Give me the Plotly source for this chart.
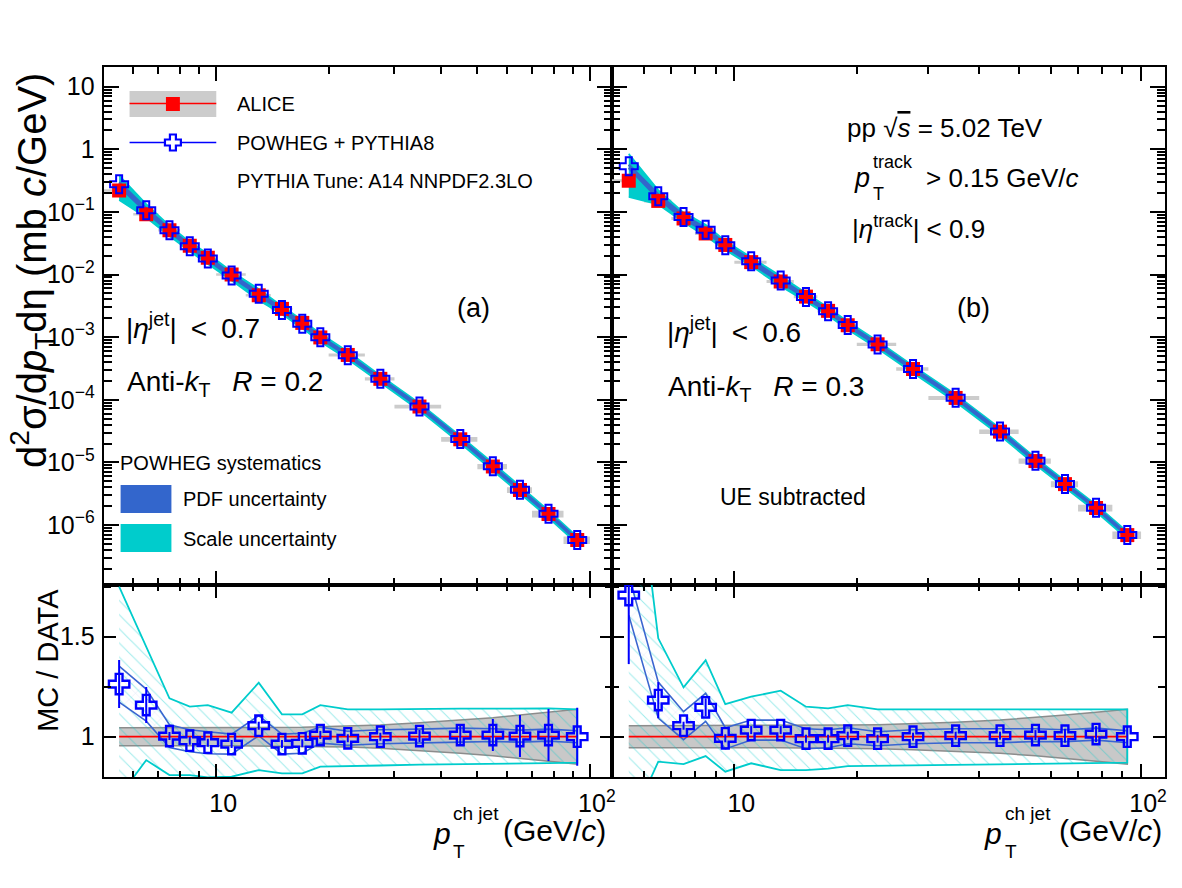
import numpy as np
import plotly.graph_objects as go

W, H = 1182, 888
FONT = "Liberation Sans, Arial, sans-serif"

# ---------------- data ----------------
bin_edges = [5, 6, 7, 8, 9, 10, 12, 14, 16, 18, 20, 25, 30, 40, 50, 60, 70, 85, 100]
pt_centers = [5.5, 6.5, 7.5, 8.5, 9.5, 11, 13, 15, 17, 19, 22.5, 27.5, 35, 45, 55, 65, 77.5, 92.5]

# ALICE cross sections (mb c/GeV)
alice_r02 = [0.22, 0.092, 0.051, 0.0289, 0.0186, 0.0100, 0.00466, 0.00283, 0.00169, 0.00099,
             5.2e-4, 2.16e-4, 7.8e-5, 2.34e-5, 8.6e-6, 3.63e-6, 1.5e-6, 5.75e-7]
alice_r03 = [0.315, 0.15, 0.0787, 0.0453, 0.0297, 0.0158, 0.00775, 0.00444, 0.00263, 0.00155,
             7.7e-4, 3.1e-4, 1.07e-4, 3.1e-5, 1.05e-5, 4.5e-6, 1.87e-6, 6.9e-7]
# ALICE relative systematic uncertainty
alice_syst_r02 = [0.045, 0.045, 0.045, 0.045, 0.045, 0.045, 0.045, 0.045, 0.047, 0.05,
                  0.052, 0.058, 0.07, 0.083, 0.095, 0.108, 0.122, 0.137]
alice_syst_r03 = [0.055, 0.055, 0.055, 0.055, 0.055, 0.055, 0.055, 0.055, 0.055, 0.058,
                  0.06, 0.065, 0.072, 0.083, 0.095, 0.108, 0.122, 0.137]
# POWHEG+PYTHIA8 / ALICE ratio
ratio_r02 = [1.263, 1.158, 1.003, 0.98, 0.97, 0.963, 1.055, 0.963, 0.967, 1.008,
             0.992, 1.0, 1.003, 1.008, 1.008, 1.003, 1.008, 1.0]
ratio_r03 = [1.708, 1.183, 1.055, 1.147, 0.992, 1.033, 1.033, 0.99, 0.99, 1.005,
             0.99, 1.0, 1.005, 1.005, 1.008, 1.005, 1.013, 1.0]
# MC statistical uncertainty on ratio
ratio_stat_r02 = [0.12, 0.09, 0.02, 0.02, 0.02, 0.02, 0.02, 0.02, 0.02, 0.02,
                  0.02, 0.02, 0.03, 0.055, 0.08, 0.105, 0.13, 0.145]
ratio_stat_r03 = [0.345, 0.09, 0.02, 0.045, 0.02, 0.02, 0.02, 0.02, 0.02, 0.02,
                  0.02, 0.02, 0.02, 0.02, 0.025, 0.035, 0.04, 0.05]
# PDF uncertainty (half width, ratio units)
pdf_r02 = [0.09, 0.08, 0.057, 0.055, 0.055, 0.05, 0.05, 0.05, 0.05, 0.04,
           0.035, 0.035, 0.035, 0.035, 0.032, 0.03, 0.03, 0.03]
pdf_r03 = [0.1, 0.09, 0.07, 0.07, 0.053, 0.05, 0.05, 0.05, 0.045, 0.04,
           0.035, 0.035, 0.035, 0.035, 0.032, 0.03, 0.03, 0.03]
# Scale uncertainty envelope (ratio to data)
scale_hi_r02 = [1.75, 1.449, 1.192, 1.15, 1.158, 1.12, 1.27, 1.112, 1.112, 1.158,
                1.137, 1.137, 1.14, 1.14, 1.14, 1.142, 1.142, 1.137]
scale_lo_r02 = [0.70, 0.883, 0.808, 0.808, 0.797, 0.80, 0.833, 0.817, 0.817, 0.85,
                0.853, 0.856, 0.86, 0.862, 0.865, 0.867, 0.868, 0.87]
scale_hi_r03 = [2.7, 1.492, 1.247, 1.383, 1.163, 1.2, 1.23, 1.15, 1.142, 1.158,
                1.137, 1.137, 1.137, 1.137, 1.137, 1.137, 1.137, 1.137]
scale_lo_r03 = [0.55, 0.875, 0.863, 0.903, 0.825, 0.867, 0.833, 0.833, 0.84, 0.853,
                0.855, 0.857, 0.86, 0.862, 0.865, 0.867, 0.868, 0.87]

# ticks
x_major = [10, 100]
x_major_text = ["10", "10<sup>2</sup>"]
x_minor = [6, 7, 8, 9, 20, 30, 40, 50, 60, 70, 80, 90]
y_major = [1e-6, 1e-5, 1e-4, 1e-3, 1e-2, 1e-1, 1, 10]
y_major_text = ["10<sup>\u22126</sup>", "10<sup>\u22125</sup>", "10<sup>\u22124</sup>", "10<sup>\u22123</sup>",
                "10<sup>\u22122</sup>", "10<sup>\u22121</sup>", "1", "10"]
y_minor = [m * 10.0 ** k for k in range(-7, 2) for m in range(2, 10)]
r_major = [1, 1.5]
r_major_text = ["1", "1.5"]
r_minor = [1.25, 1.75]

# ---------------- colours ----------------
RED = "#ff0000"
BLUE = "#0000ff"
CYAN = "#00cccc"
PDFBLUE = "#3366cc"
GRAY = "rgb(204,204,204)"

fig = go.Figure()


def poly(x, lo, hi):
    x = list(x)
    return x + x[::-1], list(hi) + list(lo)[::-1]


def add_panel(xa, ya, xr, yr, data, syst, ratio, stat, pdf, s_hi, s_lo):
    d = np.array(data)
    r = np.array(ratio)
    mc = d * r
    sy = np.array(syst)
    # --- top panel ---
    bx, by = [], []
    for i in range(len(d)):
        lo, hi = bin_edges[i], bin_edges[i + 1]
        y0, y1 = d[i] * (1 - sy[i]), d[i] * (1 + sy[i])
        bx += [lo, hi, hi, lo, lo, None]
        by += [y0, y0, y1, y1, y0, None]
    fig.add_trace(go.Scatter(x=bx, y=by, xaxis=xa, yaxis=ya, mode="lines", fill="toself",
                             fillcolor=GRAY, line=dict(width=0, color=GRAY), showlegend=False,
                             hoverinfo="skip"))
    px_, py_ = poly(pt_centers, d * np.array(s_lo), d * np.array(s_hi))
    fig.add_trace(go.Scatter(x=px_, y=py_, xaxis=xa, yaxis=ya, mode="lines", fill="toself",
                             fillcolor=CYAN, line=dict(width=1.5, color=CYAN), showlegend=False))
    px_, py_ = poly(pt_centers, d * (r - np.array(pdf)), d * (r + np.array(pdf)))
    fig.add_trace(go.Scatter(x=px_, y=py_, xaxis=xa, yaxis=ya, mode="lines", fill="toself",
                             fillcolor=PDFBLUE, line=dict(width=2.5, color=PDFBLUE), showlegend=False))
    fig.add_trace(go.Scatter(x=pt_centers, y=d, xaxis=xa, yaxis=ya, mode="markers",
                             marker=dict(symbol="square", size=14, color=RED, line=dict(width=0)),
                             showlegend=False))
    fig.add_trace(go.Scatter(x=pt_centers, y=mc, xaxis=xa, yaxis=ya, mode="markers",
                             marker=dict(symbol="cross-open", size=15, color=BLUE, line=dict(width=2, color=BLUE)),
                             showlegend=False))
    # --- ratio panel ---
    px_, py_ = poly(pt_centers, 1 - sy, 1 + sy)
    fig.add_trace(go.Scatter(x=px_, y=py_, xaxis=xr, yaxis=yr, mode="lines", fill="toself",
                             fillcolor="rgb(200,200,200)", line=dict(width=1.5, color="rgb(140,140,140)"),
                             showlegend=False))
    px_, py_ = poly(pt_centers, s_lo, s_hi)
    fig.add_trace(go.Scatter(x=px_, y=py_, xaxis=xr, yaxis=yr, mode="lines", fill="toself",
                             fillcolor="rgba(0,0,0,0)",
                             fillpattern=dict(shape="\\", fgcolor="rgba(0,200,200,0.75)", bgcolor="rgba(0,0,0,0)",
                                              size=10, solidity=0.1),
                             line=dict(width=1.8, color=CYAN), showlegend=False))
    px_, py_ = poly(pt_centers, r - np.array(pdf), r + np.array(pdf))
    fig.add_trace(go.Scatter(x=px_, y=py_, xaxis=xr, yaxis=yr, mode="lines", fill="toself",
                             fillcolor="rgba(0,0,0,0)",
                             fillpattern=dict(shape="x", fgcolor="rgba(120,150,220,0.6)", bgcolor="rgba(0,0,0,0)",
                                              size=9, solidity=0.08),
                             line=dict(width=1.6, color="#3a66d0"), showlegend=False))
    fig.add_trace(go.Scatter(x=pt_centers, y=d / d, xaxis=xr, yaxis=yr, mode="lines",
                             line=dict(width=1.8, color=RED), showlegend=False))
    fig.add_trace(go.Scatter(x=pt_centers, y=r, xaxis=xr, yaxis=yr, mode="markers",
                             marker=dict(symbol="cross-open", size=17, color=BLUE, line=dict(width=2.4, color=BLUE)),
                             error_y=dict(type="data", array=stat, color=BLUE, thickness=2, width=0),
                             showlegend=False))


add_panel("x", "y", "x3", "y3", alice_r02, alice_syst_r02, ratio_r02, ratio_stat_r02, pdf_r02,
          scale_hi_r02, scale_lo_r02)
add_panel("x2", "y2", "x4", "y4", alice_r03, alice_syst_r03, ratio_r03, ratio_stat_r03, pdf_r03,
          scale_hi_r03, scale_lo_r03)

# ---------------- axes ----------------
L0, L1, R1 = 104 / W, 614 / W, 1169 / W
T_top, T_bot = 1 - 67 / H, 1 - 585 / H
B_bot = 1 - 777 / H
XR = [np.log10(5), np.log10(5) + 1.36]
YR = [-6.958, 1.3147]
RR = [0.7985, 1.7585]
tf = dict(size=25, family=FONT, color="black")


def xcfg(domain, anchor, labels, ml, mn):
    return dict(type="log", domain=domain, anchor=anchor, range=XR, tickmode="array",
                tickvals=x_major, ticktext=x_major_text, showticklabels=labels,
                ticks="inside", ticklen=ml, tickwidth=1.5, tickcolor="black",
                minor=dict(ticks="inside", ticklen=mn, tickwidth=1.5, tickcolor="black", tickvals=x_minor,
                           showgrid=False),
                showline=True, linecolor="black", linewidth=2, mirror="ticks", showgrid=False,
                zeroline=False, tickfont=tf, ticklabelstandoff=3, ticklabelshift=7)


def ycfg(domain, anchor, rng, typ, vals, text, minor_vals, labels, ml, mn):
    return dict(type=typ, domain=domain, anchor=anchor, range=rng, tickmode="array",
                tickvals=vals, ticktext=text, showticklabels=labels,
                ticks="inside", ticklen=ml, tickwidth=1.5, tickcolor="black",
                minor=dict(ticks="inside", ticklen=mn, tickwidth=1.5, tickcolor="black", tickvals=minor_vals,
                           showgrid=False),
                showline=True, linecolor="black", linewidth=2, mirror="ticks", showgrid=False,
                zeroline=False, tickfont=tf, ticklabelstandoff=2)


layout = dict(
    width=W, height=H, margin=dict(l=0, r=0, t=0, b=0),
    paper_bgcolor="white", plot_bgcolor="white", showlegend=False,
    font=dict(family=FONT, color="black"),
    xaxis=xcfg([L0, L1], "y", False, 14, 7),
    xaxis2=xcfg([L1, R1], "y2", False, 14, 7),
    xaxis3=xcfg([L0, L1], "y3", True, 13, 6),
    xaxis4=xcfg([L1, R1], "y4", True, 13, 6),
    yaxis=ycfg([T_bot, T_top], "x", YR, "log", y_major, y_major_text, y_minor, True, 15, 8),
    yaxis2=ycfg([T_bot, T_top], "x2", YR, "log", y_major, y_major_text, y_minor, False, 15, 8),
    yaxis3=ycfg([B_bot, T_bot], "x3", RR, "linear", r_major, r_major_text, r_minor, True, 12, 7),
    yaxis4=ycfg([B_bot, T_bot], "x4", RR, "linear", r_major, r_major_text, r_minor, False, 12, 7),
)
fig.update_layout(**layout)

# ---------------- text & legend ----------------
ann = []
shapes = []


def A(text, x, y, size, xanchor="left", yanchor="middle", angle=0):
    ann.append(dict(text=text, x=x / W, y=1 - y / H, xref="paper", yref="paper", showarrow=False,
                    xanchor=xanchor, yanchor=yanchor, textangle=angle,
                    font=dict(size=size, family=FONT, color="black")))


def rect(x0, y0, x1, y1, color, line=None):
    shapes.append(dict(type="rect", xref="paper", yref="paper", x0=x0 / W, x1=x1 / W,
                       y0=1 - y1 / H, y1=1 - y0 / H, fillcolor=color,
                       line=dict(width=0) if line is None else line, layer="above"))


def hline(x0, x1, y, color, w):
    shapes.append(dict(type="line", xref="paper", yref="paper", x0=x0 / W, x1=x1 / W,
                       y0=1 - y / H, y1=1 - y / H, line=dict(color=color, width=w), layer="above"))


def cross_path(cx, cy, r, a):
    pts = [(-a, -r), (a, -r), (a, -a), (r, -a), (r, a), (a, a), (a, r), (-a, r), (-a, a), (-r, a), (-r, -a), (-a, -a)]
    s = "M " + " L ".join(f"{(cx + dx) / W:.5f},{1 - (cy + dy) / H:.5f}" for dx, dy in pts) + " Z"
    return s


# y axis titles
A("d<sup>2</sup>σ/d<i>p</i><sub>T</sub>dη (mb <i>c</i>/GeV)", 32, 270, 40, "center", "middle", -90)
A("MC / DATA", 48, 660, 29, "center", "middle", -90)

# x axis titles (stacked sub/superscripts)
for (xp, xe) in [(432, 503), (985, 1061)]:
    A("<i>p</i>", xp, 833, 30, "left", "middle")
    A("ch jet", xp + 21, 813, 19, "left", "middle")
    A("T", xp + 21, 851, 19, "left", "middle")
    A("(GeV/<i>c</i>)", xe, 830, 30, "left", "middle")

# legend
rect(130, 91, 217, 117, GRAY)
hline(130, 217, 103.5, RED, 1.5)
rect(166.5, 97, 180.5, 111, RED)
hline(130, 217, 142.5, BLUE, 1.5)
shapes.append(dict(type="path", xref="paper", yref="paper", path=cross_path(173.5, 142.5, 8, 3),
                   fillcolor="white", line=dict(color=BLUE, width=2.2), layer="above"))
A("ALICE", 236, 103.5, 20)
A("POWHEG + PYTHIA8", 236, 142.5, 20)
A("PYTHIA Tune: A14 NNPDF2.3LO", 236, 181, 20)

# left panel texts
A("|<i>η</i><sup>jet</sup>|\u2002<\u20020.7", 124, 326, 28)
A("Anti-<i>k</i><sub>T</sub>\u2002 <i>R</i> = 0.2", 125, 383, 28)
A("(a)", 475, 308, 27, "center")
A("POWHEG systematics", 118, 463, 20)
rect(121, 485, 172, 513, PDFBLUE)
rect(121, 524, 172, 552, CYAN)
A("PDF uncertainty", 182, 499, 20)
A("Scale uncertainty", 182, 538.5, 20)

# right panel texts
A("pp \u221a<span style='text-decoration:overline'><i>s</i></span> = 5.02 TeV", 848, 128, 26)
A("<i>p</i>", 855, 178, 27)
A("track", 874, 162, 18)
A("T", 874, 194, 18)
A("> 0.15 GeV/<i>c</i>", 927, 178, 26)
A("|<i>η</i><sup>track</sup>| < 0.9", 853, 227, 26)
A("(b)", 977, 308, 27, "center")
A("|<i>η</i><sup>jet</sup>|\u2002<\u20020.6", 667, 330, 28)
A("Anti-<i>k</i><sub>T</sub>\u2002 <i>R</i> = 0.3", 668, 388, 28)
A("UE subtracted", 720, 497, 23)

fig.update_layout(annotations=ann, shapes=shapes)
fig.write_html("out.html")
